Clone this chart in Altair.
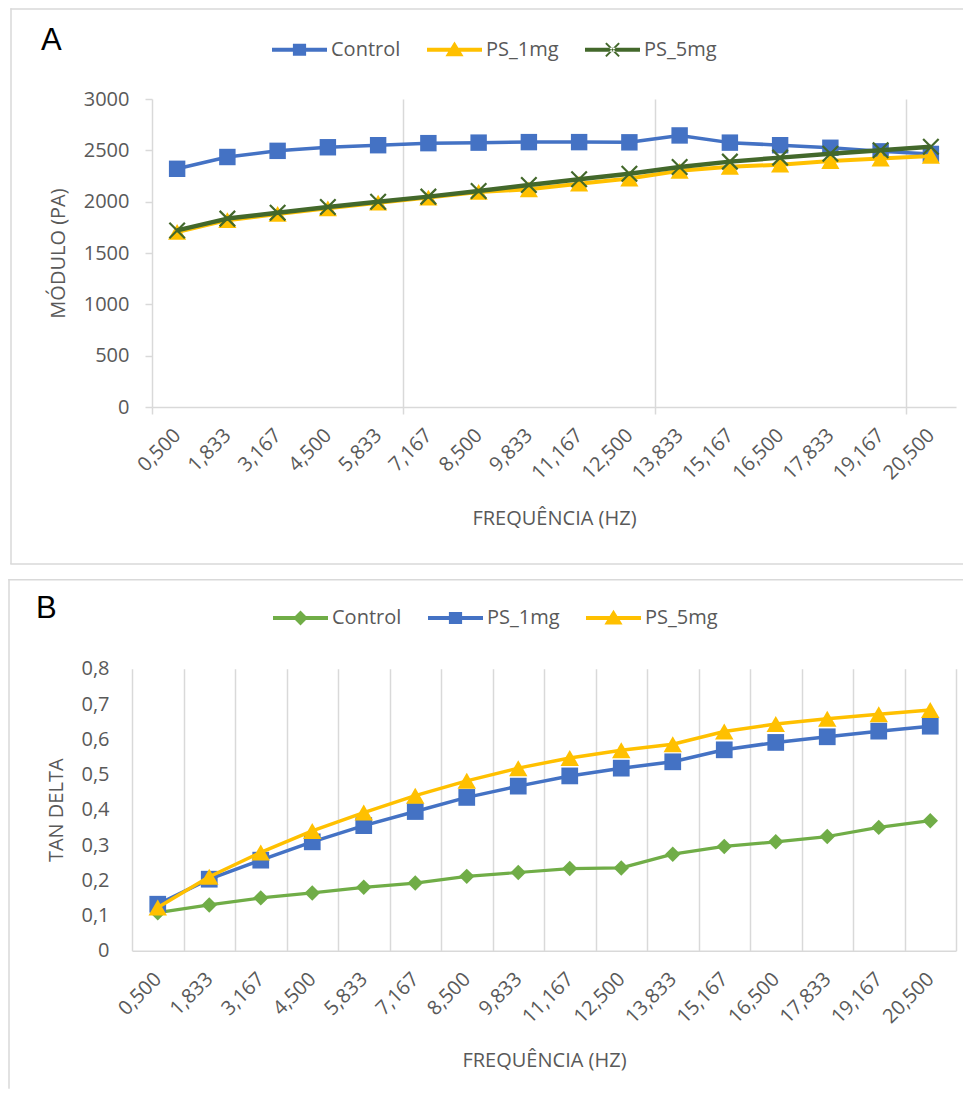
import altair as alt
import pandas as pd

# ---------------- data ----------------
freq = ["0,500", "1,833", "3,167", "4,500", "5,833", "7,167", "8,500", "9,833",
        "11,167", "12,500", "13,833", "15,167", "16,500", "17,833", "19,167", "20,500"]

a_names = ["Control", "PS_1mg", "PS_5mg"]
a_control = [2320, 2435, 2495, 2530, 2550, 2570, 2575, 2580, 2580, 2578, 2645, 2575, 2550, 2525, 2490, 2465]
a_ps1 = [1705, 1820, 1880, 1935, 1990, 2040, 2095, 2120, 2175, 2225, 2300, 2340, 2360, 2395, 2420, 2445]
a_ps5 = [1720, 1835, 1893, 1948, 2000, 2049, 2104, 2162, 2218, 2272, 2338, 2390, 2429, 2467, 2500, 2535]

b_names = ["Control", "PS_1mg", "PS_5mg"]
b_control = [0.108, 0.130, 0.150, 0.164, 0.180, 0.192, 0.211, 0.222, 0.233, 0.235,
             0.274, 0.296, 0.309, 0.324, 0.350, 0.369]
b_ps1 = [0.132, 0.203, 0.257, 0.309, 0.355, 0.395, 0.435, 0.467, 0.496, 0.518,
         0.536, 0.570, 0.591, 0.607, 0.623, 0.637]
b_ps5 = [0.123, 0.210, 0.279, 0.340, 0.392, 0.440, 0.482, 0.518, 0.547, 0.569,
         0.586, 0.622, 0.643, 0.658, 0.671, 0.683]

a_ticks = [0, 500, 1000, 1500, 2000, 2500, 3000]
b_ticks = [0, 0.1, 0.2, 0.3, 0.4, 0.5, 0.6, 0.7, 0.8]
# panel A: vertical gridlines after these categories (plus the left edge)
a_grid_after = ["5,833", "12,500", "19,167"]

# ---------------- style ----------------
FONT = "Open Sans"
GRAY = "#595959"
LINE = "#D9D9D9"
BLUE = "#4472C4"
YELLOW = "#FFC000"
DKGREEN = "#43682B"
GREEN = "#70AD47"

X_PATH = "M-1,-1L1,1M-1,1L1,-1"
BAR = "M-1,-0.075L1,-0.075L1,0.075L-1,0.075Z"
LEG_SQUARE = BAR + "M-0.24,-0.22L0.24,-0.22L0.24,0.22L-0.24,0.22Z"
LEG_TRI = BAR + "M0,-0.3L0.33,0.24L-0.33,0.24Z"
LEG_DIAMOND = BAR + "M0,-0.27L0.27,0L0,0.27L-0.27,0Z"
LEG_X = (BAR
         + "M-0.266,-0.214L0.214,0.266L0.266,0.214L-0.214,-0.266Z"
         + "M-0.214,0.266L0.266,-0.214L0.214,-0.266L-0.266,0.214Z")


def long_df(names, series):
    rows = []
    for n, vals in zip(names, series):
        for f, v in zip(freq, vals):
            rows.append({"freq": f, "series": n, "value": v})
    return pd.DataFrame(rows)


def frame_layers(left, top, right, bottom, close_bottom):
    """Light grey chart-area border (decoration), drawn as thin filled rects."""
    base = alt.Chart(alt.Data(values=[{"k": 0}]))
    h = 0.75
    layers = [
        base.mark_rect(color=LINE).encode(x=alt.value(left - h), x2=alt.value(right),
                                          y=alt.value(top - h), y2=alt.value(top + h)),
        base.mark_rect(color=LINE).encode(x=alt.value(left - h), x2=alt.value(left + h),
                                          y=alt.value(top - h), y2=alt.value(bottom)),
    ]
    if close_bottom:
        layers.append(base.mark_rect(color=LINE).encode(x=alt.value(left - h), x2=alt.value(right),
                                                        y=alt.value(bottom - h), y2=alt.value(bottom + h)))
    return layers


def make_legend(label, lx, ly, title_pad):
    return alt.Legend(
        title=label, titleOrient="left", titleFont="Liberation Sans", titleFontSize=31,
        titleFontWeight="normal", titleColor="#000000", titlePadding=title_pad,
        titleAnchor="middle", titleBaseline="middle",
        orient="none", legendX=lx, legendY=ly, direction="horizontal",
        symbolSize=3025, symbolStrokeWidth=0, symbolOpacity=1,
        labelFont=FONT, labelFontSize=20, labelColor=GRAY,
        labelOffset=4, columnPadding=26, padding=0,
    )


def panel(df, names, colors, leg_paths, specs, xscale, xaxis, yaxis, ydomain, legend, width, height, frame):
    x = alt.X("freq:N", scale=xscale, axis=xaxis)
    y = alt.Y("value:Q", scale=alt.Scale(domain=ydomain, nice=False, zero=True), axis=yaxis)
    color = alt.Color("series:N", scale=alt.Scale(domain=names, range=colors), legend=legend)
    shape = alt.Shape("series:N", scale=alt.Scale(domain=names, range=leg_paths), legend=legend)
    layers = list(frame)
    # empty layer that only carries the legend (line + marker symbols)
    layers.append(
        alt.Chart(df).transform_filter("false")
        .mark_point(filled=True, opacity=1, strokeWidth=0)
        .encode(x=x, y=y, color=color, shape=shape)
    )
    for name, sp in zip(names, specs):
        base = alt.Chart(df).transform_filter(alt.datum.series == name)
        layers.append(base.mark_line(strokeWidth=sp["lw"], strokeJoin="round").encode(x=x, y=y, color=color))
        layers.append(base.mark_point(shape=sp["shape"], size=sp["size"], filled=sp["filled"],
                                      strokeWidth=sp.get("sw", 1), opacity=1).encode(x=x, y=y, color=color))
    return alt.layer(*layers).properties(width=width, height=height)


PLOT_W = 824
A_SHIFT = 20  # panel A plot area starts 20px right of panel B's

# ---------------- panel A ----------------
grid_test = "datum.index < 0 || indexof(" + str(a_grid_after) + ", datum.value) >= 0"
a_x_axis = alt.Axis(
    title="FREQUÊNCIA (HZ)", labelAngle=-45, labelAlign="right", labelBaseline="middle",
    labelPadding=18, labelOverlap=False, tickBand="extent",
    grid=True, gridColor=LINE, gridWidth=1.5,
    gridOpacity={"condition": {"test": grid_test, "value": 1}, "value": 0},
    ticks=True, tickSize=7, tickColor=LINE, tickWidth=1.5,
    tickOpacity={"condition": {"test": grid_test, "value": 1}, "value": 0},
    domainColor=LINE, domainWidth=1.5, titlePadding=25,
)
a_y_axis = alt.Axis(
    title="MÓDULO (PA)", values=a_ticks, format="d", grid=False, domain=False, offset=-A_SHIFT,
    ticks=True, tickSize=7, tickColor=LINE, tickWidth=1.5, labelPadding=16, titlePadding=15,
)
a_specs = [
    {"lw": 3.5, "shape": "square", "size": 270, "filled": True},
    {"lw": 4, "shape": "triangle-up", "size": 330, "filled": True},
    {"lw": 4.5, "shape": X_PATH, "size": 240, "filled": False, "sw": 2.2},
]
a_colors = [BLUE, YELLOW, DKGREEN]
chart_a = panel(
    long_df(a_names, [a_control, a_ps1, a_ps5]), a_names, a_colors, [LEG_SQUARE, LEG_TRI, LEG_X], a_specs,
    alt.Scale(type="band", domain=freq, paddingInner=0, paddingOuter=0, range=[A_SHIFT, PLOT_W]),
    a_x_axis, a_y_axis, [0, 3000], make_legend("A", -91, -77, 210), PLOT_W, 308,
    frame_layers(-121, -90, 831, 465, True),
)

# ---------------- panel B ----------------
b_x_axis = alt.Axis(
    title="FREQUÊNCIA (HZ)", labelAngle=-45, labelAlign="right", labelBaseline="middle",
    labelPadding=25, labelOverlap=False, tickBand="extent",
    grid=True, gridColor=LINE, gridWidth=1.5, ticks=False,
    domainColor=LINE, domainWidth=1.5, titlePadding=24,
)
b_y_axis = alt.Axis(
    title="TAN DELTA", values=b_ticks, labelExpr="replace(format(datum.value, '.1~f'), '.', ',')",
    grid=False, domain=False, ticks=False, labelPadding=23, titlePadding=14,
)
b_specs = [
    {"lw": 3.2, "shape": "diamond", "size": 240, "filled": True},
    {"lw": 3.5, "shape": "square", "size": 280, "filled": True},
    {"lw": 3.5, "shape": "triangle-up", "size": 340, "filled": True},
]
b_colors = [GREEN, BLUE, YELLOW]
chart_b = panel(
    long_df(b_names, [b_control, b_ps1, b_ps5]), b_names, b_colors, [LEG_DIAMOND, LEG_SQUARE, LEG_TRI], b_specs,
    alt.Scale(type="band", domain=freq, paddingInner=0, paddingOuter=0),
    b_x_axis, b_y_axis, [0, 0.8], make_legend("B", -96, -78.5, 216), PLOT_W, 282,
    frame_layers(-123, -89, 831, 420, False),
)

chart = (
    alt.vconcat(chart_a, chart_b, spacing=13.75)
    .resolve_scale(color="independent", shape="independent")
    .properties(padding={"left": 0, "top": 0, "right": 0, "bottom": 0},
                autosize=alt.AutoSizeParams(type="pad"))
    .configure_view(strokeWidth=0)
    .configure_axis(labelFont=FONT, labelFontSize=20, labelColor=GRAY,
                    titleFont=FONT, titleFontSize=20, titleColor=GRAY, titleFontWeight="normal")
)

chart.save("out.html", embed_options={"renderer": "svg", "actions": False})
